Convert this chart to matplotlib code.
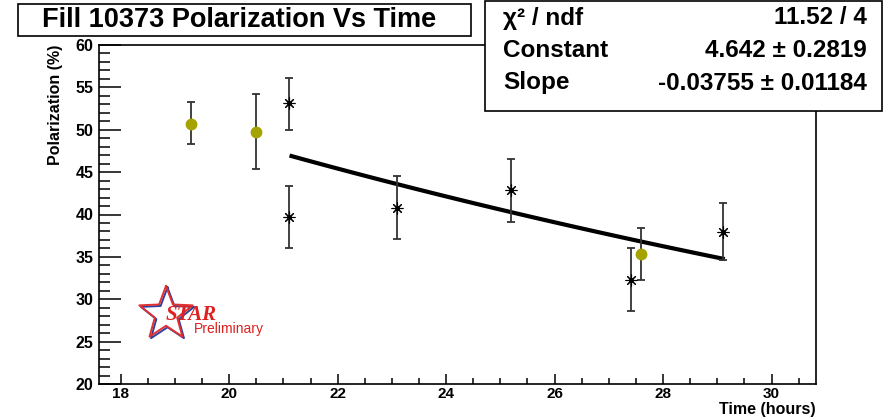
import numpy as np
import matplotlib.pyplot as plt
from matplotlib.lines import Line2D
from matplotlib.patches import Rectangle

plt.rcParams['font.family'] = ['Liberation Sans', 'DejaVu Sans']
plt.rcParams['font.weight'] = 'bold'

# yellow points (one detector)
t_yel = [19.3, 20.5, 27.6]
p_yel = [50.7, 49.7, 35.3]
lo_yel = [48.3, 45.4, 32.3]
hi_yel = [53.3, 54.2, 38.4]

# black asterisks (other detector)
t_blk = [21.1, 21.1, 23.1, 25.2, 27.4, 29.1]
p_blk = [53.1, 39.7, 40.8, 42.9, 32.3, 37.9]
lo_blk = [50.0, 36.0, 37.1, 39.1, 28.6, 34.6]
hi_blk = [56.1, 43.4, 44.5, 46.6, 36.1, 41.3]

# fit result (expo): exp(Constant + Slope*t)
fit_const = 4.642
fit_slope = -0.03755
fit_range = [21.15, 29.1]

fig = plt.figure(figsize=(8.83, 4.2), dpi=100)
ax = fig.add_axes([99 / 883, 1 - 384 / 420, (816 - 99) / 883, (384 - 45) / 420])

ecol = '#333333'
ax.errorbar(t_yel, p_yel,
            yerr=[np.subtract(p_yel, lo_yel), np.subtract(hi_yel, p_yel)],
            fmt='o', color='#a4a300', ms=7.5, ecolor=ecol, elinewidth=1.3,
            capsize=3, capthick=1.3, zorder=3)
ax.errorbar(t_blk, p_blk,
            yerr=[np.subtract(p_blk, lo_blk), np.subtract(hi_blk, p_blk)],
            fmt='none', ecolor=ecol, elinewidth=1.3, capsize=3, capthick=1.3, zorder=3)
ax.plot(t_blk, p_blk, linestyle='None', marker=(8, 2, 0), ms=8.5, color='black',
        markeredgewidth=0.8, zorder=4)
ax.plot(t_blk, p_blk, linestyle='None', marker='o', ms=2.5, color='black', zorder=4)

tt = np.linspace(fit_range[0], fit_range[1], 100)
ax.plot(tt, np.exp(fit_const + fit_slope * tt), color='black', lw=3, zorder=2)

ax.set_xlim(17.6, 30.82)
ax.set_ylim(20, 60)
ax.set_xticks(np.arange(18, 31, 2))
ax.set_xticks(np.arange(18, 31, 0.5), minor=True)
ax.set_yticks(np.arange(20, 61, 5))
ax.set_yticks(np.arange(20, 61, 1), minor=True)
ax.tick_params(axis='x', which='major', direction='in', length=7.5, width=1.1,
               labelsize=11, pad=2)
ax.tick_params(axis='x', which='minor', direction='in', length=4, width=1.1)
ax.tick_params(axis='y', which='major', direction='in', length=16, width=1.1,
               labelsize=11.5, pad=4)
ax.tick_params(axis='y', which='minor', direction='in', length=8, width=1.1)
for lab in ax.get_xticklabels() + ax.get_yticklabels():
    lab.set_fontweight('bold')
for s in ax.spines.values():
    s.set_linewidth(1.2)

ax.set_xlabel('Time (hours)', fontsize=11.5, fontweight='bold', loc='right', labelpad=1)
ax.set_ylabel('Polarization (%)', fontsize=11.5, fontweight='bold', loc='top', labelpad=9)

# title box
fig.patches.append(Rectangle((18 / 883, 1 - 36 / 420), (471 - 18) / 883, 32 / 420,
                             transform=fig.transFigure, facecolor='white',
                             edgecolor='black', lw=1.2, zorder=5))
fig.text(239 / 883, 1 - 20 / 420, 'Fill 10373 Polarization Vs Time', fontsize=19.5,
         fontweight='bold', ha='center', va='center', zorder=6)

# stats box
fig.patches.append(Rectangle((485 / 883, 1 - 111 / 420), (882 - 485) / 883, 110 / 420,
                             transform=fig.transFigure, facecolor='white',
                             edgecolor='black', lw=1.2, zorder=5))
rows = [('\u03c7\u00b2 / ndf', '11.52 / 4'),
        ('Constant', '4.642 \u00b1 0.2819'),
        ('Slope', '-0.03755 \u00b1 0.01184')]
for i, (k, v) in enumerate(rows):
    y = 1 - (18 + 32.5 * i) / 420
    fig.text(503 / 883, y, k, fontsize=17.5, fontweight='bold', ha='left', va='center', zorder=6)
    fig.text(867 / 883, y, v, fontsize=17.5, fontweight='bold', ha='right', va='center', zorder=6)

# STAR preliminary logo
ang = np.pi / 2 + np.arange(11) * np.pi / 5
rad = np.where(np.arange(11) % 2 == 0, 1.0, 0.42)
sx = 166 + 28 * rad * np.cos(ang)
sy = 314 - 28 * rad * np.sin(ang)
fx = sx / 883
fy = 1 - sy / 420
fig.add_artist(Line2D(fx + 1.5 / 883, fy - 1.5 / 420, color='#3040a0', lw=1.4,
                      transform=fig.transFigure))
fig.add_artist(Line2D(fx, fy, color='#e03030', lw=1.4, transform=fig.transFigure))
fig.text(166 / 883, 1 - 315 / 420, 'STAR', fontsize=15, fontweight='bold', style='italic',
         family='Liberation Serif', color='#dd2020', ha='left', va='center')
fig.text(194 / 883, 1 - 329 / 420, 'Preliminary', fontsize=10, fontweight='normal',
         color='#dd2020', ha='left', va='center')

fig.savefig('out.png', dpi=100)
